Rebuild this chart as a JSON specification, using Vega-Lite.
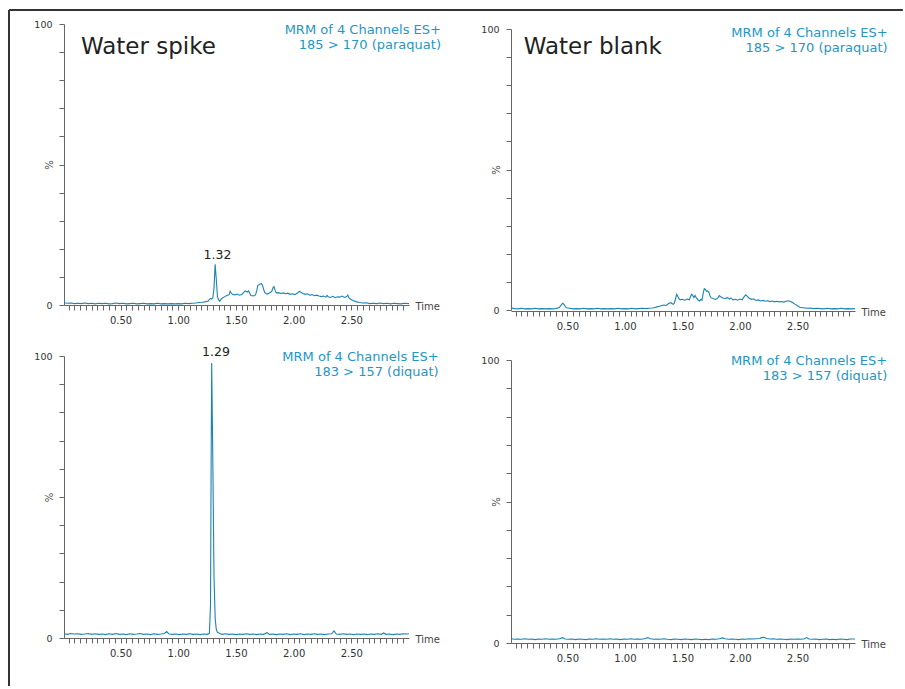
{
"$schema": "https://vega.github.io/schema/vega-lite/v6.json",
"background": "white",
"autosize": {"type": "pad"},
"padding": {"left": 7, "top": 9, "right": 0, "bottom": 0},
"config": {"view": {"stroke": null}, "font": "DejaVu Sans"},
"datasets": {
"A": [{"t":0.01,"v":0.8},{"t":0.04,"v":0.6},{"t":0.07,"v":0.7},{"t":0.10,"v":0.5},{"t":0.13,"v":0.6},{"t":0.16,"v":0.5},{"t":0.19,"v":0.7},{"t":0.22,"v":0.5},{"t":0.25,"v":0.6},{"t":0.28,"v":0.4},{"t":0.31,"v":0.6},{"t":0.34,"v":0.5},{"t":0.37,"v":0.6},{"t":0.40,"v":0.4},{"t":0.43,"v":0.5},{"t":0.46,"v":0.7},{"t":0.49,"v":0.5},{"t":0.52,"v":0.6},{"t":0.55,"v":0.4},{"t":0.58,"v":0.5},{"t":0.61,"v":0.6},{"t":0.64,"v":0.4},{"t":0.67,"v":0.5},{"t":0.70,"v":0.6},{"t":0.73,"v":0.4},{"t":0.76,"v":0.5},{"t":0.79,"v":0.4},{"t":0.82,"v":0.6},{"t":0.85,"v":0.4},{"t":0.88,"v":0.5},{"t":0.91,"v":0.4},{"t":0.94,"v":0.5},{"t":0.97,"v":0.4},{"t":1.00,"v":0.5},{"t":1.03,"v":0.4},{"t":1.06,"v":0.6},{"t":1.09,"v":0.5},{"t":1.12,"v":0.6},{"t":1.15,"v":0.7},{"t":1.18,"v":0.9},{"t":1.21,"v":1.0},{"t":1.24,"v":1.2},{"t":1.26,"v":1.4},{"t":1.27,"v":2.0},{"t":1.28,"v":2.3},{"t":1.29,"v":2.1},{"t":1.30,"v":2.6},{"t":1.31,"v":6.0},{"t":1.32,"v":14.5},{"t":1.33,"v":9.0},{"t":1.34,"v":3.0},{"t":1.35,"v":1.8},{"t":1.36,"v":1.3},{"t":1.37,"v":2.0},{"t":1.38,"v":2.4},{"t":1.40,"v":2.9},{"t":1.42,"v":3.4},{"t":1.44,"v":3.6},{"t":1.45,"v":4.9},{"t":1.46,"v":4.2},{"t":1.47,"v":3.8},{"t":1.49,"v":3.6},{"t":1.51,"v":3.9},{"t":1.53,"v":3.5},{"t":1.55,"v":3.7},{"t":1.57,"v":4.6},{"t":1.58,"v":5.0},{"t":1.60,"v":4.6},{"t":1.61,"v":5.0},{"t":1.62,"v":4.2},{"t":1.63,"v":3.4},{"t":1.65,"v":3.2},{"t":1.67,"v":3.6},{"t":1.68,"v":5.0},{"t":1.69,"v":7.0},{"t":1.71,"v":7.5},{"t":1.72,"v":7.6},{"t":1.73,"v":7.0},{"t":1.74,"v":5.6},{"t":1.75,"v":4.4},{"t":1.77,"v":3.9},{"t":1.79,"v":4.3},{"t":1.81,"v":4.8},{"t":1.82,"v":6.0},{"t":1.83,"v":6.5},{"t":1.84,"v":5.2},{"t":1.85,"v":4.3},{"t":1.87,"v":4.4},{"t":1.89,"v":4.1},{"t":1.91,"v":4.3},{"t":1.93,"v":4.0},{"t":1.95,"v":4.2},{"t":1.97,"v":3.8},{"t":1.99,"v":4.0},{"t":2.01,"v":3.7},{"t":2.03,"v":4.2},{"t":2.05,"v":4.8},{"t":2.06,"v":4.6},{"t":2.08,"v":4.1},{"t":2.10,"v":3.8},{"t":2.12,"v":4.0},{"t":2.14,"v":3.5},{"t":2.16,"v":3.7},{"t":2.18,"v":3.3},{"t":2.20,"v":3.5},{"t":2.22,"v":3.2},{"t":2.24,"v":3.0},{"t":2.26,"v":3.2},{"t":2.28,"v":2.8},{"t":2.29,"v":3.4},{"t":2.30,"v":2.9},{"t":2.32,"v":2.7},{"t":2.34,"v":3.1},{"t":2.36,"v":2.6},{"t":2.38,"v":2.9},{"t":2.40,"v":2.8},{"t":2.42,"v":3.2},{"t":2.44,"v":2.7},{"t":2.46,"v":3.0},{"t":2.47,"v":3.5},{"t":2.48,"v":2.5},{"t":2.50,"v":1.9},{"t":2.52,"v":1.5},{"t":2.54,"v":1.2},{"t":2.57,"v":0.9},{"t":2.60,"v":0.7},{"t":2.63,"v":0.8},{"t":2.66,"v":0.5},{"t":2.69,"v":0.6},{"t":2.72,"v":0.5},{"t":2.75,"v":0.7},{"t":2.78,"v":0.5},{"t":2.81,"v":0.6},{"t":2.84,"v":0.4},{"t":2.87,"v":0.6},{"t":2.90,"v":0.5},{"t":2.93,"v":0.4},{"t":2.96,"v":0.6},{"t":3.00,"v":0.5}],
"B": [{"t":0.01,"v":0.8},{"t":0.04,"v":0.5},{"t":0.07,"v":0.4},{"t":0.10,"v":0.6},{"t":0.13,"v":0.4},{"t":0.16,"v":0.5},{"t":0.19,"v":0.4},{"t":0.22,"v":0.6},{"t":0.25,"v":0.4},{"t":0.28,"v":0.5},{"t":0.31,"v":0.4},{"t":0.34,"v":0.5},{"t":0.37,"v":0.4},{"t":0.40,"v":0.5},{"t":0.43,"v":0.9},{"t":0.45,"v":2.0},{"t":0.46,"v":2.4},{"t":0.47,"v":2.0},{"t":0.49,"v":0.8},{"t":0.52,"v":0.6},{"t":0.55,"v":0.4},{"t":0.58,"v":0.5},{"t":0.61,"v":0.4},{"t":0.64,"v":0.6},{"t":0.67,"v":0.4},{"t":0.70,"v":0.5},{"t":0.73,"v":0.4},{"t":0.76,"v":0.6},{"t":0.79,"v":0.4},{"t":0.82,"v":0.5},{"t":0.85,"v":0.4},{"t":0.88,"v":0.5},{"t":0.91,"v":0.4},{"t":0.94,"v":0.6},{"t":0.97,"v":0.4},{"t":1.00,"v":0.5},{"t":1.03,"v":0.4},{"t":1.06,"v":0.6},{"t":1.09,"v":0.4},{"t":1.12,"v":0.5},{"t":1.15,"v":0.6},{"t":1.18,"v":0.5},{"t":1.21,"v":0.6},{"t":1.24,"v":0.7},{"t":1.26,"v":0.9},{"t":1.28,"v":1.1},{"t":1.30,"v":1.3},{"t":1.32,"v":1.6},{"t":1.34,"v":1.8},{"t":1.36,"v":1.6},{"t":1.38,"v":2.3},{"t":1.40,"v":2.6},{"t":1.42,"v":2.0},{"t":1.43,"v":2.4},{"t":1.44,"v":4.0},{"t":1.45,"v":5.6},{"t":1.46,"v":4.8},{"t":1.47,"v":4.0},{"t":1.48,"v":3.6},{"t":1.50,"v":3.8},{"t":1.52,"v":3.5},{"t":1.54,"v":3.9},{"t":1.56,"v":3.6},{"t":1.57,"v":4.8},{"t":1.58,"v":5.6},{"t":1.59,"v":5.2},{"t":1.60,"v":4.4},{"t":1.61,"v":5.2},{"t":1.62,"v":4.4},{"t":1.64,"v":3.4},{"t":1.65,"v":3.2},{"t":1.66,"v":3.8},{"t":1.67,"v":3.5},{"t":1.68,"v":5.8},{"t":1.69,"v":7.6},{"t":1.70,"v":7.3},{"t":1.71,"v":6.6},{"t":1.72,"v":6.8},{"t":1.73,"v":6.3},{"t":1.74,"v":5.0},{"t":1.75,"v":4.3},{"t":1.77,"v":4.0},{"t":1.79,"v":3.8},{"t":1.81,"v":4.4},{"t":1.82,"v":5.1},{"t":1.83,"v":4.8},{"t":1.85,"v":4.3},{"t":1.87,"v":4.1},{"t":1.89,"v":4.4},{"t":1.91,"v":3.9},{"t":1.92,"v":4.3},{"t":1.94,"v":3.6},{"t":1.96,"v":3.8},{"t":1.98,"v":3.5},{"t":2.00,"v":3.9},{"t":2.02,"v":3.6},{"t":2.03,"v":4.4},{"t":2.05,"v":5.4},{"t":2.06,"v":5.0},{"t":2.08,"v":4.2},{"t":2.10,"v":3.8},{"t":2.12,"v":3.9},{"t":2.14,"v":3.4},{"t":2.16,"v":3.6},{"t":2.18,"v":3.2},{"t":2.20,"v":3.4},{"t":2.22,"v":3.1},{"t":2.24,"v":3.3},{"t":2.26,"v":3.0},{"t":2.28,"v":3.2},{"t":2.30,"v":2.9},{"t":2.32,"v":3.1},{"t":2.34,"v":2.9},{"t":2.36,"v":3.0},{"t":2.38,"v":2.8},{"t":2.40,"v":3.1},{"t":2.42,"v":3.3},{"t":2.44,"v":3.0},{"t":2.46,"v":2.6},{"t":2.48,"v":2.0},{"t":2.50,"v":1.5},{"t":2.52,"v":1.0},{"t":2.55,"v":0.8},{"t":2.58,"v":0.6},{"t":2.61,"v":0.7},{"t":2.64,"v":0.5},{"t":2.67,"v":0.6},{"t":2.70,"v":0.5},{"t":2.73,"v":0.4},{"t":2.76,"v":0.6},{"t":2.79,"v":0.4},{"t":2.82,"v":0.5},{"t":2.85,"v":0.4},{"t":2.88,"v":0.6},{"t":2.91,"v":0.4},{"t":2.94,"v":0.5},{"t":2.97,"v":0.4},{"t":3.00,"v":0.5}],
"C": [{"t":0.01,"v":1.5},{"t":0.04,"v":1.3},{"t":0.07,"v":1.6},{"t":0.10,"v":1.4},{"t":0.13,"v":1.5},{"t":0.16,"v":1.3},{"t":0.19,"v":1.4},{"t":0.22,"v":1.6},{"t":0.25,"v":1.3},{"t":0.28,"v":1.5},{"t":0.31,"v":1.3},{"t":0.34,"v":1.4},{"t":0.37,"v":1.2},{"t":0.40,"v":1.5},{"t":0.43,"v":1.3},{"t":0.46,"v":1.6},{"t":0.49,"v":1.3},{"t":0.52,"v":1.4},{"t":0.55,"v":1.2},{"t":0.58,"v":1.5},{"t":0.61,"v":1.3},{"t":0.64,"v":1.4},{"t":0.67,"v":1.6},{"t":0.70,"v":1.3},{"t":0.73,"v":1.4},{"t":0.76,"v":1.2},{"t":0.79,"v":1.5},{"t":0.82,"v":1.3},{"t":0.85,"v":1.4},{"t":0.88,"v":1.6},{"t":0.90,"v":2.3},{"t":0.92,"v":1.4},{"t":0.95,"v":1.3},{"t":0.98,"v":1.4},{"t":1.01,"v":1.2},{"t":1.04,"v":1.4},{"t":1.07,"v":1.3},{"t":1.10,"v":1.5},{"t":1.13,"v":1.3},{"t":1.16,"v":1.4},{"t":1.19,"v":1.2},{"t":1.22,"v":1.4},{"t":1.25,"v":1.3},{"t":1.27,"v":1.6},{"t":1.28,"v":12.0},{"t":1.285,"v":60},{"t":1.29,"v":97.5},{"t":1.30,"v":62},{"t":1.31,"v":22},{"t":1.32,"v":7},{"t":1.33,"v":3.0},{"t":1.34,"v":2.0},{"t":1.36,"v":1.6},{"t":1.38,"v":1.3},{"t":1.41,"v":1.5},{"t":1.44,"v":1.3},{"t":1.47,"v":1.4},{"t":1.50,"v":1.2},{"t":1.53,"v":1.4},{"t":1.56,"v":1.3},{"t":1.59,"v":1.5},{"t":1.62,"v":1.3},{"t":1.65,"v":1.4},{"t":1.68,"v":1.2},{"t":1.71,"v":1.4},{"t":1.74,"v":1.3},{"t":1.77,"v":1.9},{"t":1.79,"v":1.3},{"t":1.82,"v":1.4},{"t":1.85,"v":1.2},{"t":1.88,"v":1.4},{"t":1.91,"v":1.3},{"t":1.94,"v":1.5},{"t":1.97,"v":1.2},{"t":2.00,"v":1.4},{"t":2.03,"v":1.3},{"t":2.06,"v":1.5},{"t":2.09,"v":1.2},{"t":2.12,"v":1.4},{"t":2.15,"v":1.3},{"t":2.18,"v":1.5},{"t":2.21,"v":1.3},{"t":2.24,"v":1.4},{"t":2.27,"v":1.2},{"t":2.30,"v":1.4},{"t":2.33,"v":1.5},{"t":2.35,"v":2.5},{"t":2.37,"v":1.4},{"t":2.40,"v":1.3},{"t":2.43,"v":1.5},{"t":2.46,"v":1.3},{"t":2.49,"v":1.4},{"t":2.52,"v":1.2},{"t":2.55,"v":1.4},{"t":2.58,"v":1.3},{"t":2.61,"v":1.4},{"t":2.64,"v":1.2},{"t":2.67,"v":1.4},{"t":2.70,"v":1.3},{"t":2.73,"v":1.5},{"t":2.76,"v":1.3},{"t":2.78,"v":1.8},{"t":2.80,"v":1.3},{"t":2.83,"v":1.4},{"t":2.86,"v":1.2},{"t":2.89,"v":1.4},{"t":2.92,"v":1.3},{"t":2.95,"v":1.5},{"t":2.98,"v":1.4},{"t":3.00,"v":1.5}],
"D": [{"t":0.01,"v":1.5},{"t":0.04,"v":1.3},{"t":0.07,"v":1.4},{"t":0.10,"v":1.3},{"t":0.13,"v":1.5},{"t":0.16,"v":1.3},{"t":0.19,"v":1.4},{"t":0.22,"v":1.2},{"t":0.25,"v":1.4},{"t":0.28,"v":1.3},{"t":0.31,"v":1.5},{"t":0.34,"v":1.3},{"t":0.37,"v":1.4},{"t":0.40,"v":1.3},{"t":0.43,"v":1.5},{"t":0.46,"v":1.9},{"t":0.48,"v":1.4},{"t":0.51,"v":1.3},{"t":0.54,"v":1.4},{"t":0.57,"v":1.2},{"t":0.60,"v":1.4},{"t":0.63,"v":1.3},{"t":0.66,"v":1.2},{"t":0.69,"v":1.4},{"t":0.72,"v":1.3},{"t":0.75,"v":1.5},{"t":0.78,"v":1.3},{"t":0.81,"v":1.4},{"t":0.84,"v":1.3},{"t":0.87,"v":1.5},{"t":0.90,"v":1.3},{"t":0.93,"v":1.4},{"t":0.96,"v":1.2},{"t":0.99,"v":1.4},{"t":1.02,"v":1.3},{"t":1.05,"v":1.5},{"t":1.08,"v":1.3},{"t":1.11,"v":1.4},{"t":1.14,"v":1.3},{"t":1.17,"v":1.5},{"t":1.20,"v":1.9},{"t":1.22,"v":1.5},{"t":1.25,"v":1.3},{"t":1.28,"v":1.4},{"t":1.31,"v":1.3},{"t":1.34,"v":1.5},{"t":1.37,"v":1.3},{"t":1.40,"v":1.2},{"t":1.43,"v":1.4},{"t":1.46,"v":1.3},{"t":1.49,"v":1.2},{"t":1.52,"v":1.4},{"t":1.55,"v":1.3},{"t":1.58,"v":1.2},{"t":1.61,"v":1.4},{"t":1.64,"v":1.3},{"t":1.67,"v":1.2},{"t":1.70,"v":1.3},{"t":1.73,"v":1.2},{"t":1.76,"v":1.4},{"t":1.79,"v":1.3},{"t":1.82,"v":1.5},{"t":1.85,"v":1.8},{"t":1.87,"v":1.5},{"t":1.90,"v":1.3},{"t":1.93,"v":1.4},{"t":1.96,"v":1.3},{"t":1.99,"v":1.2},{"t":2.02,"v":1.4},{"t":2.05,"v":1.3},{"t":2.08,"v":1.5},{"t":2.11,"v":1.4},{"t":2.14,"v":1.5},{"t":2.17,"v":1.6},{"t":2.19,"v":1.9},{"t":2.21,"v":2.0},{"t":2.23,"v":1.6},{"t":2.26,"v":1.4},{"t":2.29,"v":1.5},{"t":2.32,"v":1.3},{"t":2.35,"v":1.4},{"t":2.38,"v":1.3},{"t":2.41,"v":1.2},{"t":2.44,"v":1.4},{"t":2.47,"v":1.3},{"t":2.50,"v":1.4},{"t":2.53,"v":1.3},{"t":2.56,"v":1.5},{"t":2.58,"v":1.9},{"t":2.60,"v":1.4},{"t":2.63,"v":1.3},{"t":2.66,"v":1.4},{"t":2.69,"v":1.2},{"t":2.72,"v":1.3},{"t":2.75,"v":1.4},{"t":2.78,"v":1.2},{"t":2.81,"v":1.3},{"t":2.84,"v":1.2},{"t":2.87,"v":1.4},{"t":2.90,"v":1.3},{"t":2.93,"v":1.2},{"t":2.96,"v":1.4},{"t":3.00,"v":1.4}]
},
"columns": 2,
"bounds": "flush",
"spacing": {"row": 45, "column": 102},
"concat": [
{
"width": 345, "height": 281,
"layer": [
{"data": {"name": "A"}, "mark": {"type": "line", "color": "#1a84b2", "strokeWidth": 1.1},
 "encoding": {
  "x": {"field": "t", "type": "quantitative", "scale": {"domain": [0.01, 3.0], "nice": false, "zero": false},
   "axis": {"values": [0.05,0.1,0.15,0.2,0.25,0.3,0.35,0.4,0.45,0.5,0.55,0.6,0.65,0.7,0.75,0.8,0.85,0.9,0.95,1,1.05,1.1,1.15,1.2,1.25,1.3,1.35,1.4,1.45,1.5,1.55,1.6,1.65,1.7,1.75,1.8,1.85,1.9,1.95,2,2.05,2.1,2.15,2.2,2.25,2.3,2.35,2.4,2.45,2.5,2.55,2.6,2.65,2.7,2.75,2.8,2.85,2.9,2.95],
    "tickCount": 1000,
    "labelExpr": "abs(datum.value*2 - round(datum.value*2)) < 0.001 ? format(datum.value, '.2f') : ''",
    "tickSize": 5, "labelPadding": 5, "labelFontSize": 10, "labelColor": "#333", "domainColor": "#666", "tickColor": "#666", "grid": false, "labelFlush": false, "labelOverlap": false,
    "title": "Time", "titleX": 351, "titleY": 1, "titleAlign": "left", "titleBaseline": "middle", "titleAngle": 0, "titleFontSize": 10, "titleFontWeight": "normal", "titleColor": "#444",
    "encoding": {"ticks": {"update": {"y2": {"signal": "abs(datum.value*2 - round(datum.value*2)) < 0.001 ? 5 : 3"}}}}}},
  "y": {"field": "v", "type": "quantitative", "scale": {"domain": [0, 100], "nice": false, "zero": false},
   "axis": {"values": [0,10,20,30,40,50,60,70,80,90,100],
    "tickCount": 1000,
    "labelExpr": "datum.value == 0 || datum.value == 100 ? format(datum.value, 'd') : ''",
    "tickSize": 5, "labelPadding": 7, "labelFontSize": 9.5, "labelColor": "#333", "domainColor": "#666", "tickColor": "#666", "grid": false, "labelFlush": false,
    "title": "%", "titleX": -15, "titleY": 140.5, "titleAngle": -90, "titleAlign": "center", "titleBaseline": "middle", "titleFontSize": 10, "titleFontWeight": "normal", "titleColor": "#444",
    "encoding": {"ticks": {"update": {"x2": {"signal": "datum.value % 50 === 0 ? -5 : -2.5"}}}}}}
 }},
{"data": {"values": [{}]}, "mark": {"type": "rule", "color": "#333", "strokeWidth": 2}, "encoding": {"x": {"datum": -0.4667}, "x2": {"datum": 7.28}, "y": {"datum": 104.98}}},
{"data": {"values": [{}]}, "mark": {"type": "rule", "color": "#333", "strokeWidth": 2}, "encoding": {"x": {"datum": -0.4667}, "y": {"datum": 104.98}, "y2": {"datum": -135.6}}},
{"data": {"values": [{}]}, "mark": {"type": "text", "fontSize": 23, "color": "#222", "align": "left", "baseline": "alphabetic"}, "encoding": {"x": {"datum": 0.157}, "y": {"datum": 89.3}, "text": {"value": "Water spike"}}},
{"data": {"values": [{}]}, "mark": {"type": "text", "fontSize": 13, "color": "#2596c4", "align": "right", "baseline": "alphabetic", "lineHeight": 15}, "encoding": {"x": {"datum": 3.277}, "y": {"datum": 96.6}, "text": {"value": ["MRM of 4 Channels ES+", "185 > 170 (paraquat)"]}}},
{"data": {"values": [{}]}, "mark": {"type": "text", "fontSize": 12.5, "color": "#222", "align": "center", "baseline": "alphabetic"}, "encoding": {"x": {"datum": 1.34}, "y": {"datum": 16.4}, "text": {"value": "1.32"}}}
]
},
{
"width": 344, "height": 287,
"layer": [
{"data": {"name": "B"}, "mark": {"type": "line", "color": "#1a84b2", "strokeWidth": 1.1},
 "encoding": {
  "x": {"field": "t", "type": "quantitative", "scale": {"domain": [0.01, 3.0], "nice": false, "zero": false},
   "axis": {"values": [0.05,0.1,0.15,0.2,0.25,0.3,0.35,0.4,0.45,0.5,0.55,0.6,0.65,0.7,0.75,0.8,0.85,0.9,0.95,1,1.05,1.1,1.15,1.2,1.25,1.3,1.35,1.4,1.45,1.5,1.55,1.6,1.65,1.7,1.75,1.8,1.85,1.9,1.95,2,2.05,2.1,2.15,2.2,2.25,2.3,2.35,2.4,2.45,2.5,2.55,2.6,2.65,2.7,2.75,2.8,2.85,2.9,2.95],
    "tickCount": 1000,
    "labelExpr": "abs(datum.value*2 - round(datum.value*2)) < 0.001 ? format(datum.value, '.2f') : ''",
    "tickSize": 5, "labelPadding": 5, "labelFontSize": 10, "labelColor": "#333", "domainColor": "#666", "tickColor": "#666", "grid": false, "labelFlush": false, "labelOverlap": false,
    "title": "Time", "titleX": 350, "titleY": 1, "titleAlign": "left", "titleBaseline": "middle", "titleAngle": 0, "titleFontSize": 10, "titleFontWeight": "normal", "titleColor": "#444",
    "encoding": {"ticks": {"update": {"y2": {"signal": "abs(datum.value*2 - round(datum.value*2)) < 0.001 ? 5 : 3"}}}}}},
  "y": {"field": "v", "type": "quantitative", "scale": {"domain": [0, 100], "range": [286, 5], "nice": false, "zero": false},
   "axis": {"values": [0,10,20,30,40,50,60,70,80,90,100],
    "tickCount": 1000,
    "labelExpr": "datum.value == 0 || datum.value == 100 ? format(datum.value, 'd') : ''",
    "tickSize": 5, "labelPadding": 7, "labelFontSize": 9.5, "labelColor": "#333", "domainColor": "#666", "tickColor": "#666", "grid": false, "labelFlush": false,
    "title": "%", "titleX": -15, "titleY": 145.5, "titleAngle": -90, "titleAlign": "center", "titleBaseline": "middle", "titleFontSize": 10, "titleFontWeight": "normal", "titleColor": "#444",
    "encoding": {"ticks": {"update": {"x2": {"signal": "datum.value % 50 === 0 ? -5 : -2.5"}}}}}}
 }},
{"data": {"values": [{}]}, "mark": {"type": "text", "fontSize": 23, "color": "#222", "align": "left", "baseline": "alphabetic"}, "encoding": {"x": {"datum": 0.12}, "y": {"datum": 91.1}, "text": {"value": "Water blank"}}},
{"data": {"values": [{}]}, "mark": {"type": "text", "fontSize": 13, "color": "#2596c4", "align": "right", "baseline": "alphabetic", "lineHeight": 15}, "encoding": {"x": {"datum": 3.284}, "y": {"datum": 97.0}, "text": {"value": ["MRM of 4 Channels ES+", "185 > 170 (paraquat)"]}}}
]
},
{
"width": 345, "height": 282,
"layer": [
{"data": {"name": "C"}, "mark": {"type": "line", "color": "#1a84b2", "strokeWidth": 1.1},
 "encoding": {
  "x": {"field": "t", "type": "quantitative", "scale": {"domain": [0.01, 3.0], "nice": false, "zero": false},
   "axis": {"values": [0.05,0.1,0.15,0.2,0.25,0.3,0.35,0.4,0.45,0.5,0.55,0.6,0.65,0.7,0.75,0.8,0.85,0.9,0.95,1,1.05,1.1,1.15,1.2,1.25,1.3,1.35,1.4,1.45,1.5,1.55,1.6,1.65,1.7,1.75,1.8,1.85,1.9,1.95,2,2.05,2.1,2.15,2.2,2.25,2.3,2.35,2.4,2.45,2.5,2.55,2.6,2.65,2.7,2.75,2.8,2.85,2.9,2.95],
    "tickCount": 1000,
    "labelExpr": "abs(datum.value*2 - round(datum.value*2)) < 0.001 ? format(datum.value, '.2f') : ''",
    "tickSize": 5, "labelPadding": 5, "labelFontSize": 10, "labelColor": "#333", "domainColor": "#666", "tickColor": "#666", "grid": false, "labelFlush": false, "labelOverlap": false,
    "title": "Time", "titleX": 351, "titleY": 1, "titleAlign": "left", "titleBaseline": "middle", "titleAngle": 0, "titleFontSize": 10, "titleFontWeight": "normal", "titleColor": "#444",
    "encoding": {"ticks": {"update": {"y2": {"signal": "abs(datum.value*2 - round(datum.value*2)) < 0.001 ? 5 : 3"}}}}}},
  "y": {"field": "v", "type": "quantitative", "scale": {"domain": [0, 100], "nice": false, "zero": false},
   "axis": {"values": [0,10,20,30,40,50,60,70,80,90,100],
    "tickCount": 1000,
    "labelExpr": "datum.value == 0 || datum.value == 100 ? format(datum.value, 'd') : ''",
    "tickSize": 5, "labelPadding": 7, "labelFontSize": 9.5, "labelColor": "#333", "domainColor": "#666", "tickColor": "#666", "grid": false, "labelFlush": false,
    "title": "%", "titleX": -15, "titleY": 141, "titleAngle": -90, "titleAlign": "center", "titleBaseline": "middle", "titleFontSize": 10, "titleFontWeight": "normal", "titleColor": "#444",
    "encoding": {"ticks": {"update": {"x2": {"signal": "datum.value % 50 === 0 ? -5 : -2.5"}}}}}}
 }},
{"data": {"values": [{}]}, "mark": {"type": "text", "fontSize": 13, "color": "#2596c4", "align": "right", "baseline": "alphabetic", "lineHeight": 15}, "encoding": {"x": {"datum": 3.257}, "y": {"datum": 98.3}, "text": {"value": ["MRM of 4 Channels ES+", "183 > 157 (diquat)"]}}},
{"data": {"values": [{}]}, "mark": {"type": "text", "fontSize": 12.5, "color": "#222", "align": "center", "baseline": "alphabetic"}, "encoding": {"x": {"datum": 1.327}, "y": {"datum": 100.1}, "text": {"value": "1.29"}}}
]
},
{
"width": 344, "height": 287,
"layer": [
{"data": {"name": "D"}, "mark": {"type": "line", "color": "#1a84b2", "strokeWidth": 1.1},
 "encoding": {
  "x": {"field": "t", "type": "quantitative", "scale": {"domain": [0.01, 3.0], "nice": false, "zero": false},
   "axis": {"values": [0.05,0.1,0.15,0.2,0.25,0.3,0.35,0.4,0.45,0.5,0.55,0.6,0.65,0.7,0.75,0.8,0.85,0.9,0.95,1,1.05,1.1,1.15,1.2,1.25,1.3,1.35,1.4,1.45,1.5,1.55,1.6,1.65,1.7,1.75,1.8,1.85,1.9,1.95,2,2.05,2.1,2.15,2.2,2.25,2.3,2.35,2.4,2.45,2.5,2.55,2.6,2.65,2.7,2.75,2.8,2.85,2.9,2.95],
    "tickCount": 1000,
    "labelExpr": "abs(datum.value*2 - round(datum.value*2)) < 0.001 ? format(datum.value, '.2f') : ''",
    "tickSize": 5, "labelPadding": 5, "labelFontSize": 10, "labelColor": "#333", "domainColor": "#666", "tickColor": "#666", "grid": false, "labelFlush": false, "labelOverlap": false,
    "title": "Time", "titleX": 350, "titleY": 1, "titleAlign": "left", "titleBaseline": "middle", "titleAngle": 0, "titleFontSize": 10, "titleFontWeight": "normal", "titleColor": "#444",
    "encoding": {"ticks": {"update": {"y2": {"signal": "abs(datum.value*2 - round(datum.value*2)) < 0.001 ? 5 : 3"}}}}}},
  "y": {"field": "v", "type": "quantitative", "scale": {"domain": [0, 100], "range": [287, 4], "nice": false, "zero": false},
   "axis": {"values": [0,10,20,30,40,50,60,70,80,90,100],
    "tickCount": 1000,
    "labelExpr": "datum.value == 0 || datum.value == 100 ? format(datum.value, 'd') : ''",
    "tickSize": 5, "labelPadding": 7, "labelFontSize": 9.5, "labelColor": "#333", "domainColor": "#666", "tickColor": "#666", "grid": false, "labelFlush": false,
    "title": "%", "titleX": -15, "titleY": 145.5, "titleAngle": -90, "titleAlign": "center", "titleBaseline": "middle", "titleFontSize": 10, "titleFontWeight": "normal", "titleColor": "#444",
    "encoding": {"ticks": {"update": {"x2": {"signal": "datum.value % 50 === 0 ? -5 : -2.5"}}}}}}
 }},
{"data": {"values": [{}]}, "mark": {"type": "text", "fontSize": 13, "color": "#2596c4", "align": "right", "baseline": "alphabetic", "lineHeight": 15}, "encoding": {"x": {"datum": 3.28}, "y": {"datum": 98.2}, "text": {"value": ["MRM of 4 Channels ES+", "183 > 157 (diquat)"]}}}
]
}
]
}
